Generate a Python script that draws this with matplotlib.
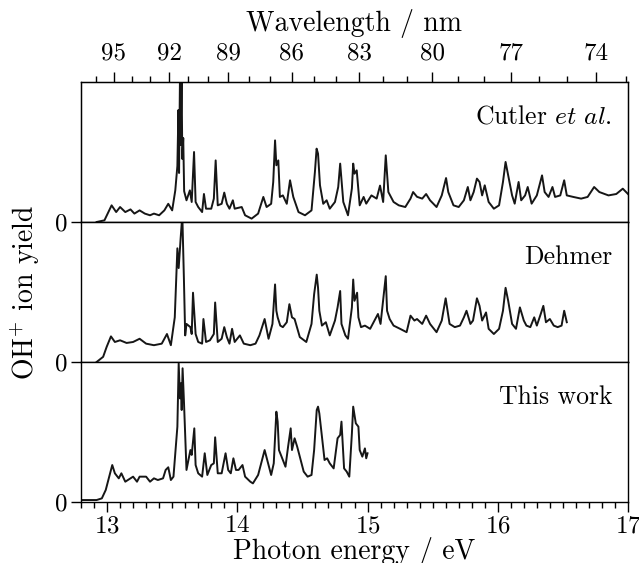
"""
OH+ ion yield spectra: Cutler et al., Dehmer and this work, stacked panels
with a photon-energy axis below and a wavelength axis on top.
"""

import matplotlib
matplotlib.use("Agg")
import matplotlib.pyplot as plt
from matplotlib.ticker import FixedLocator, MultipleLocator

HC_EV_NM = 1239.84

# ---- data (photon energy in eV, yield in panel units) ----
cutler_energy = [
    12.92, 12.98, 13.035, 13.07, 13.10, 13.14, 13.18, 13.21, 13.25, 13.29,
    13.33, 13.36, 13.40, 13.44, 13.47, 13.50, 13.524, 13.540, 13.548, 13.553,
    13.560, 13.565, 13.572, 13.578, 13.585, 13.592, 13.61, 13.636, 13.65, 13.668,
    13.68, 13.70, 13.73, 13.744, 13.76, 13.80, 13.82, 13.834, 13.85, 13.88,
    13.90, 13.92, 13.94, 13.966, 13.98, 14.034, 14.06, 14.11, 14.16, 14.20,
    14.225, 14.26, 14.276, 14.29, 14.30, 14.315, 14.327, 14.35, 14.38, 14.405,
    14.43, 14.47, 14.52, 14.57, 14.596, 14.609, 14.62, 14.635, 14.66, 14.686,
    14.71, 14.75, 14.775, 14.79, 14.814, 14.85, 14.88, 14.89, 14.90, 14.917,
    14.94, 14.97, 14.99, 15.03, 15.07, 15.096, 15.12, 15.14, 15.16, 15.20,
    15.24, 15.29, 15.33, 15.35, 15.38, 15.42, 15.45, 15.48, 15.53, 15.57,
    15.603, 15.62, 15.66, 15.70, 15.74, 15.77, 15.79, 15.815, 15.84, 15.86,
    15.88, 15.90, 15.93, 15.97, 16.01, 16.04, 16.06, 16.08, 16.11, 16.13,
    16.16, 16.18, 16.21, 16.23, 16.26, 16.30, 16.32, 16.34, 16.36, 16.39,
    16.42, 16.44, 16.48, 16.51, 16.53, 16.58, 16.64, 16.69, 16.74, 16.78,
    16.85, 16.91, 16.96, 17.0,
]
cutler_yield = [
    0.0, 0.012, 0.119, 0.071, 0.107, 0.071, 0.090, 0.060, 0.083, 0.060,
    0.048, 0.060, 0.048, 0.083, 0.130, 0.083, 0.226, 0.40, 0.80, 0.35,
    1.05, 0.55, 1.05, 0.45, 0.60, 0.22, 0.155, 0.226, 0.143, 0.500,
    0.143, 0.107, 0.071, 0.200, 0.095, 0.095, 0.167, 0.440, 0.119, 0.130,
    0.210, 0.130, 0.095, 0.155, 0.095, 0.107, 0.048, 0.024, 0.060, 0.179,
    0.107, 0.130, 0.286, 0.583, 0.405, 0.440, 0.179, 0.190, 0.130, 0.298,
    0.179, 0.071, 0.048, 0.083, 0.357, 0.524, 0.488, 0.262, 0.130, 0.155,
    0.095, 0.143, 0.250, 0.417, 0.143, 0.048, 0.240, 0.417, 0.345, 0.369,
    0.119, 0.179, 0.131, 0.190, 0.167, 0.260, 0.143, 0.476, 0.214, 0.143,
    0.119, 0.107, 0.167, 0.214, 0.180, 0.167, 0.200, 0.155, 0.107, 0.190,
    0.314, 0.214, 0.119, 0.107, 0.155, 0.250, 0.155, 0.214, 0.310, 0.286,
    0.190, 0.262, 0.143, 0.095, 0.119, 0.286, 0.429, 0.333, 0.190, 0.131,
    0.286, 0.155, 0.190, 0.250, 0.131, 0.190, 0.262, 0.333, 0.214, 0.179,
    0.250, 0.179, 0.190, 0.298, 0.190, 0.179, 0.167, 0.179, 0.250, 0.214,
    0.190, 0.200, 0.238, 0.200,
]

dehmer_energy = [
    12.92, 12.97, 12.997, 13.03, 13.06, 13.10, 13.15, 13.20, 13.25, 13.30,
    13.36, 13.42, 13.46, 13.49, 13.52, 13.54, 13.55, 13.565, 13.578, 13.59,
    13.60, 13.61, 13.64, 13.65, 13.66, 13.68, 13.70, 13.73, 13.74, 13.76,
    13.79, 13.82, 13.83, 13.85, 13.88, 13.90, 13.92, 13.94, 13.96, 13.98,
    14.02, 14.05, 14.10, 14.14, 14.17, 14.21, 14.24, 14.27, 14.29, 14.30,
    14.31, 14.33, 14.35, 14.38, 14.40, 14.42, 14.44, 14.48, 14.53, 14.57,
    14.59, 14.61, 14.62, 14.63, 14.65, 14.68, 14.71, 14.75, 14.77, 14.79,
    14.80, 14.83, 14.85, 14.88, 14.89, 14.90, 14.92, 14.93, 14.95, 14.98,
    15.02, 15.06, 15.08, 15.10, 15.14, 15.15, 15.17, 15.20, 15.25, 15.30,
    15.33, 15.36, 15.38, 15.42, 15.45, 15.48, 15.53, 15.57, 15.60, 15.63,
    15.67, 15.71, 15.74, 15.76, 15.79, 15.81, 15.84, 15.86, 15.88, 15.91,
    15.93, 15.97, 16.01, 16.04, 16.06, 16.08, 16.11, 16.14, 16.17, 16.20,
    16.22, 16.25, 16.28, 16.30, 16.33, 16.35, 16.37, 16.40, 16.43, 16.46,
    16.49, 16.51, 16.53,
]
dehmer_yield = [
    0.0, 0.037, 0.108, 0.183, 0.143, 0.155, 0.136, 0.143, 0.166, 0.131,
    0.120, 0.131, 0.200, 0.120, 0.319, 0.812, 0.671, 0.883, 1.05, 0.600,
    0.190, 0.272, 0.249, 0.200, 0.495, 0.200, 0.143, 0.131, 0.307, 0.143,
    0.155, 0.200, 0.425, 0.143, 0.166, 0.249, 0.178, 0.131, 0.237, 0.143,
    0.190, 0.131, 0.120, 0.131, 0.190, 0.307, 0.166, 0.272, 0.554, 0.366,
    0.319, 0.260, 0.249, 0.284, 0.413, 0.319, 0.307, 0.178, 0.143, 0.272,
    0.484, 0.624, 0.531, 0.366, 0.260, 0.284, 0.190, 0.296, 0.390, 0.507,
    0.272, 0.190, 0.166, 0.390, 0.589, 0.437, 0.495, 0.319, 0.249, 0.260,
    0.237, 0.307, 0.343, 0.272, 0.613, 0.366, 0.307, 0.260, 0.237, 0.213,
    0.331, 0.296, 0.307, 0.272, 0.331, 0.272, 0.213, 0.296, 0.455, 0.272,
    0.249, 0.260, 0.319, 0.366, 0.272, 0.296, 0.455, 0.401, 0.296, 0.354,
    0.237, 0.200, 0.237, 0.366, 0.530, 0.437, 0.272, 0.237, 0.390, 0.296,
    0.260, 0.249, 0.319, 0.260, 0.343, 0.401, 0.284, 0.307, 0.260, 0.249,
    0.260, 0.366, 0.284,
]

thiswork_energy = [
    12.81, 12.92, 12.96, 12.99, 13.02, 13.04, 13.06, 13.09, 13.11, 13.14,
    13.18, 13.20, 13.23, 13.25, 13.30, 13.33, 13.36, 13.39, 13.43, 13.45,
    13.47, 13.49, 13.51, 13.54, 13.55, 13.56, 13.567, 13.573, 13.58, 13.59,
    13.61, 13.63, 13.64, 13.65, 13.67, 13.68, 13.70, 13.73, 13.75, 13.77,
    13.80, 13.82, 13.83, 13.85, 13.88, 13.91, 13.93, 13.95, 13.97, 13.99,
    14.01, 14.04, 14.06, 14.10, 14.12, 14.16, 14.18, 14.21, 14.24, 14.26,
    14.28, 14.30, 14.31, 14.32, 14.34, 14.37, 14.39, 14.41, 14.42, 14.44,
    14.46, 14.48, 14.51, 14.54, 14.57, 14.59, 14.61, 14.62, 14.63, 14.65,
    14.67, 14.69, 14.71, 14.74, 14.77, 14.79, 14.80, 14.82, 14.84, 14.86,
    14.88, 14.89, 14.91, 14.93, 14.94, 14.96, 14.98, 14.99, 15.00,
]
thiswork_yield = [
    0.014, 0.014, 0.026, 0.086, 0.193, 0.264, 0.205, 0.169, 0.205, 0.145,
    0.169, 0.181, 0.145, 0.181, 0.181, 0.145, 0.169, 0.157, 0.169, 0.229,
    0.248, 0.157, 0.181, 0.538, 0.990, 0.740, 0.848, 0.657, 0.955, 0.729,
    0.229, 0.324, 0.371, 0.336, 0.526, 0.264, 0.205, 0.181, 0.348, 0.193,
    0.264, 0.276, 0.462, 0.205, 0.205, 0.348, 0.229, 0.205, 0.312, 0.229,
    0.229, 0.264, 0.181, 0.145, 0.133, 0.193, 0.264, 0.371, 0.264, 0.193,
    0.276, 0.645, 0.574, 0.371, 0.324, 0.252, 0.395, 0.526, 0.371, 0.455,
    0.395, 0.324, 0.217, 0.181, 0.193, 0.371, 0.657, 0.681, 0.633, 0.467,
    0.300, 0.312, 0.276, 0.240, 0.455, 0.479, 0.574, 0.240, 0.217, 0.181,
    0.490, 0.681, 0.562, 0.538, 0.371, 0.324, 0.383, 0.312, 0.348,
]

panel_labels = [r"Cutler $\mathit{et\ al.}$", "Dehmer", "This work"]
wavelength_major = [95, 92, 89, 86, 83, 80, 77, 74]
wavelength_minor = list(range(96, 72, -1))
energy_major = [13, 14, 15, 16, 17]

plt.rcParams["font.family"] = "serif"
plt.rcParams["font.serif"] = ["cmr10", "DejaVu Serif"]
plt.rcParams["mathtext.fontset"] = "cm"
plt.rcParams["axes.formatter.use_mathtext"] = True
plt.rcParams["axes.unicode_minus"] = False

LINE = "#161616"
TICK_FS = 18
LABEL_FS = 20
PANEL_FS = 18.5


def main() -> None:
    fig = plt.figure(figsize=(6.39, 5.63), dpi=100)
    left, right = 81 / 639, 628 / 639
    tops = [82, 222, 362]
    bottoms = [222, 362, 502]

    series = [
        (cutler_energy, cutler_yield),
        (dehmer_energy, dehmer_yield),
        (thiswork_energy, thiswork_yield),
    ]

    axes = []
    for i, ((e, y), label) in enumerate(zip(series, panel_labels)):
        b = 1 - bottoms[i] / 563
        h = (bottoms[i] - tops[i]) / 563
        ax = fig.add_axes([left, b, right - left, h])
        ax.plot(e, y, color=LINE, lw=1.4)
        ax.set_xlim(12.8, 17.0)
        ax.set_ylim(0, 1)
        ax.set_yticks([0])
        ax.set_yticklabels(["0"])
        ax.tick_params(axis="y", direction="out", length=7, width=1,
                       labelsize=TICK_FS, pad=3, left=True, right=False)
        ax.tick_params(axis="x", which="both", bottom=False, top=False,
                       labelbottom=False)
        for sp in ax.spines.values():
            sp.set_linewidth(1.0)
        ax.text(0.971, 0.75, label, transform=ax.transAxes, ha="right",
                va="center", fontsize=PANEL_FS)
        axes.append(ax)

    bottom_ax = axes[-1]
    bottom_ax.set_xticks(energy_major)
    bottom_ax.xaxis.set_minor_locator(MultipleLocator(0.1))
    bottom_ax.tick_params(axis="x", which="major", bottom=True, direction="out",
                          length=7.5, width=1, labelbottom=True,
                          labelsize=TICK_FS, pad=2)
    bottom_ax.tick_params(axis="x", which="minor", bottom=True, direction="out",
                          length=4, width=1)
    bottom_ax.set_xlabel("Photon energy / eV", fontsize=LABEL_FS, labelpad=0)

    top_ax = axes[0].twiny()
    top_ax.set_xlim(12.8, 17.0)
    top_ax.xaxis.set_major_locator(
        FixedLocator([HC_EV_NM / w for w in wavelength_major]))
    top_ax.xaxis.set_minor_locator(
        FixedLocator([HC_EV_NM / w for w in wavelength_minor]))
    top_ax.set_xticklabels([str(w) for w in wavelength_major])
    top_ax.tick_params(axis="x", which="major", direction="out", length=7.5,
                       width=1, labelsize=TICK_FS, pad=5)
    top_ax.tick_params(axis="x", which="minor", direction="out", length=4,
                       width=1)
    top_ax.set_xlabel("Wavelength / nm", fontsize=LABEL_FS, labelpad=8)

    fig.text(25 / 639, 1 - 293 / 563, r"OH$^{+}$ ion yield", rotation=90,
             ha="center", va="center", fontsize=LABEL_FS)

    fig.savefig("out.png", dpi=100)
    plt.close(fig)


if __name__ == "__main__":
    main()
